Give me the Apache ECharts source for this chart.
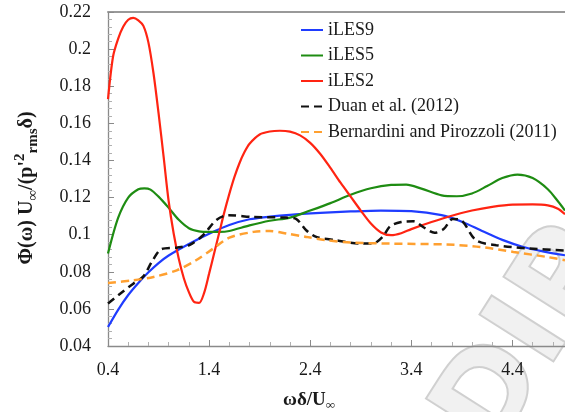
<!DOCTYPE html>
<html>
<head>
<meta charset="utf-8">
<script src="https://cdn.jsdelivr.net/npm/echarts@6/dist/echarts.min.js"></script>
<style>
  html, body { margin: 0; padding: 0; background: #fff; }
  #chart { width: 565px; height: 412px; }
</style>
</head>
<body>
<div id="chart"></div>
<script>
// Wall-pressure spectra, premultiplied form, versus ωδ/U∞ — pairs of [ωδ/U∞, Φ(ω)U∞/(p'²rms δ)]
const iLES9 = [
  [0.40, 0.0502], [0.50, 0.0595], [0.60, 0.0675], [0.70, 0.0740], [0.80, 0.0797],
  [0.90, 0.0847], [1.00, 0.0888], [1.20, 0.0950], [1.40, 0.1005], [1.60, 0.1052],
  [1.80, 0.1083], [2.00, 0.1097], [2.20, 0.1107], [2.50, 0.1117], [2.80, 0.1125],
  [3.10, 0.1130], [3.40, 0.1127], [3.70, 0.1105], [3.90, 0.1070], [4.10, 0.1020],
  [4.30, 0.0972], [4.50, 0.0935], [4.70, 0.0910], [4.92, 0.0889]
];
const iLES5 = [
  [0.40, 0.0898], [0.50, 0.1090], [0.60, 0.1200], [0.70, 0.1245], [0.76, 0.1250],
  [0.82, 0.1243], [0.90, 0.1205], [1.00, 0.1145], [1.10, 0.1080], [1.20, 0.1035],
  [1.30, 0.1018], [1.40, 0.1015], [1.50, 0.1015], [1.60, 0.1020], [1.80, 0.1050],
  [2.00, 0.1075], [2.20, 0.1092], [2.40, 0.1130], [2.60, 0.1170], [2.80, 0.1215],
  [3.00, 0.1250], [3.20, 0.1268], [3.35, 0.1270], [3.50, 0.1248], [3.70, 0.1212],
  [3.85, 0.1207], [4.00, 0.1222], [4.15, 0.1262], [4.30, 0.1305], [4.45, 0.1324],
  [4.60, 0.1305], [4.75, 0.1245], [4.85, 0.1180], [4.92, 0.1130]
];
const iLES2 = [
  [0.40, 0.1730], [0.45, 0.1960], [0.50, 0.2055], [0.55, 0.2120], [0.60, 0.2158],
  [0.65, 0.2168], [0.70, 0.2155], [0.75, 0.2125], [0.80, 0.2035], [0.85, 0.1870],
  [0.90, 0.1655], [0.95, 0.1420], [1.00, 0.1180], [1.05, 0.1005], [1.10, 0.0870],
  [1.15, 0.0765], [1.20, 0.0690], [1.25, 0.0638], [1.30, 0.0632], [1.35, 0.0685],
  [1.40, 0.0790], [1.45, 0.0900], [1.50, 0.1010], [1.55, 0.1120], [1.60, 0.1220],
  [1.65, 0.1310], [1.70, 0.1385], [1.75, 0.1445], [1.80, 0.1490], [1.90, 0.1540],
  [2.00, 0.1556], [2.10, 0.1560], [2.20, 0.1555], [2.30, 0.1535], [2.40, 0.1495],
  [2.50, 0.1435], [2.60, 0.1360], [2.70, 0.1280], [2.80, 0.1205], [2.90, 0.1130],
  [3.00, 0.1060], [3.10, 0.1012], [3.20, 0.0997], [3.30, 0.1008], [3.40, 0.1030],
  [3.60, 0.1068], [3.80, 0.1102], [4.00, 0.1130], [4.20, 0.1150], [4.40, 0.1162],
  [4.60, 0.1163], [4.75, 0.1158], [4.85, 0.1140], [4.92, 0.1110]
];
const duan2012 = [
  [0.40, 0.0629], [0.52, 0.0682], [0.65, 0.0736], [0.75, 0.0775], [0.84, 0.0860],
  [0.93, 0.0922], [1.08, 0.0930], [1.21, 0.0945], [1.34, 0.0997], [1.47, 0.1078],
  [1.59, 0.1105], [1.84, 0.1095], [2.16, 0.1092], [2.26, 0.1085], [2.36, 0.1024],
  [2.46, 0.0988], [2.66, 0.0970], [2.89, 0.0952], [3.02, 0.0952], [3.12, 0.0990],
  [3.19, 0.1045], [3.30, 0.1068], [3.42, 0.1072], [3.52, 0.1040], [3.63, 0.1010],
  [3.72, 0.1030], [3.81, 0.1085], [3.90, 0.1075], [4.04, 0.0970], [4.24, 0.0943],
  [4.57, 0.0925], [4.92, 0.0915]
];
const bernardini2011 = [
  [0.40, 0.0740], [0.65, 0.0754], [0.85, 0.0772], [1.08, 0.0808], [1.27, 0.0862],
  [1.44, 0.0925], [1.60, 0.0984], [1.84, 0.1015], [2.00, 0.1020], [2.17, 0.1006],
  [2.36, 0.0988], [2.56, 0.0970], [2.82, 0.0957], [3.19, 0.0952], [3.75, 0.0947],
  [4.08, 0.0934], [4.41, 0.0907], [4.74, 0.0880], [4.92, 0.0862]
];

const seriesNames = ['iLES9', 'iLES5', 'iLES2', 'Duan et al. (2012)', 'Bernardini and Pirozzoli (2011)'];
const xTickLabels = ['0.4', '1.4', '2.4', '3.4', '4.4'];
const yTickLabels = ['0.04', '0.06', '0.08', '0.1', '0.12', '0.14', '0.16', '0.18', '0.2', '0.22'];

const serif = 'Liberation Serif';
const axisGrey = '#8a8a8a';
const textColor = '#1a1a1a';

function fmtTick(list) {
  return function (v) {
    const s = String(+v.toFixed(4));
    return list.indexOf(s) >= 0 ? s : '';
  };
}

function lineSeries(name, data, color, width, type) {
  return {
    name: name,
    type: 'line',
    data: data,
    smooth: 0.3,
    symbol: 'none',
    lineStyle: { color: color, width: width, type: type },
    itemStyle: { color: color },
    z: 3
  };
}

const chart = echarts.init(document.getElementById('chart'), null, { renderer: 'canvas' });

chart.setOption({
  animation: false,
  backgroundColor: '#fff',
  textStyle: { fontFamily: serif },
  grid: { left: 108, right: 0, top: 12, bottom: 66, containLabel: false },
  legend: {
    orient: 'vertical',
    left: 300,
    top: 21,
    padding: 0,
    itemWidth: 22,
    itemHeight: 14,
    itemGap: 7.5,
    itemTextGap: 6,
    data: seriesNames,
    itemStyle: { opacity: 0 },
    textStyle: { fontFamily: serif, fontSize: 18, color: textColor, lineHeight: 18 }
  },
  xAxis: [{
    type: 'value',
    min: 0.4,
    max: 4.92,
    interval: 1,
    axisLine: { show: true, onZero: false, lineStyle: { color: axisGrey, width: 1.3 } },
    axisTick: { show: true, inside: true, length: 6, lineStyle: { color: axisGrey } },
    minorTick: { show: true, splitNumber: 5, length: 4, lineStyle: { color: '#b0b0b0' } },
    splitLine: { show: false },
    axisLabel: {
      showMaxLabel: false, margin: 15, fontFamily: serif, fontSize: 18, color: textColor,
      formatter: fmtTick(xTickLabels)
    }
  }, {
    type: 'value',
    position: 'top',
    min: 0.4,
    max: 4.92,
    axisLine: { show: true, lineStyle: { color: '#999', width: 2 } },
    axisTick: { show: false },
    axisLabel: { show: false },
    splitLine: { show: false }
  }],
  yAxis: {
    type: 'value',
    min: 0.04,
    max: 0.22,
    interval: 0.02,
    axisLine: { show: true, lineStyle: { color: axisGrey, width: 1.3 } },
    axisTick: { show: true, inside: true, length: 6, lineStyle: { color: axisGrey } },
    minorTick: { show: true, splitNumber: 5, length: 4, lineStyle: { color: '#b0b0b0' } },
    splitLine: { show: false },
    axisLabel: {
      margin: 17, fontFamily: serif, fontSize: 18, color: textColor,
      formatter: fmtTick(yTickLabels)
    }
  },
  graphic: [
    {
      // faint watermark lettering in the lower-right corner
      type: 'text',
      x: 530, y: 340,
      rotation: Math.PI * 0.32,
      silent: true,
      z: 0,
      style: {
        text: 'DIP',
        fontFamily: 'DejaVu Sans',
        fontWeight: 'bold',
        fontSize: 120,
        fill: 'rgba(215,215,215,0.35)',
        stroke: 'rgba(160,160,160,0.5)',
        lineWidth: 2,
        align: 'center',
        verticalAlign: 'middle'
      }
    },
    {
      type: 'text',
      x: 309, y: 400,
      style: {
        text: '{m|ωδ/U}{s|∞}',
        align: 'center',
        verticalAlign: 'middle',
        rich: {
          m: { fontFamily: serif, fontWeight: 'bold', fontSize: 19, fill: textColor, lineHeight: 24, verticalAlign: 'middle' },
          s: { fontFamily: serif, fontWeight: 'bold', fontSize: 13, fill: textColor, lineHeight: 24, verticalAlign: 'bottom' }
        }
      }
    },
    {
      type: 'text',
      x: 27, y: 188,
      rotation: Math.PI / 2,
      style: {
        text: '{m|Φ(ω) U}{s|∞}{m|/(p\'}{p|2}{s|rms}{m|δ)}',
        align: 'center',
        verticalAlign: 'middle',
        rich: {
          m: { fontFamily: serif, fontWeight: 'bold', fontSize: 20, fill: textColor, lineHeight: 28, verticalAlign: 'middle' },
          s: { fontFamily: serif, fontWeight: 'bold', fontSize: 15, fill: textColor, lineHeight: 28, verticalAlign: 'bottom' },
          p: { fontFamily: serif, fontWeight: 'bold', fontSize: 15, fill: textColor, lineHeight: 28, verticalAlign: 'top' }
        }
      }
    }
  ],
  series: [
    lineSeries(seriesNames[0], iLES9, '#1f3cff', 2.2, 'solid'),
    lineSeries(seriesNames[1], iLES5, '#1e8c12', 2.2, 'solid'),
    lineSeries(seriesNames[2], iLES2, '#ff2412', 2.2, 'solid'),
    lineSeries(seriesNames[3], duan2012, '#111111', 2.5, [8, 5]),
    lineSeries(seriesNames[4], bernardini2011, '#ffa030', 2.5, [8, 5])
  ]
});
</script>
</body>
</html>
